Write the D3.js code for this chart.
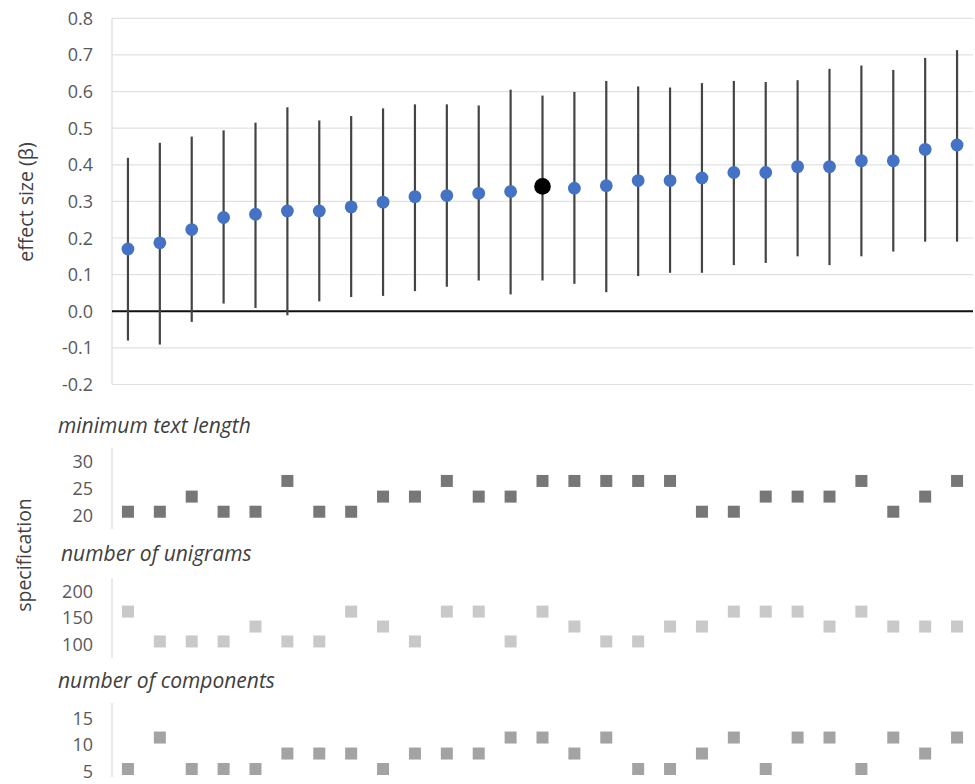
<!DOCTYPE html>
<meta charset="utf-8">
<style>
body { margin: 0; background: #fff; }
svg { display: block; font-family: "Open Sans", sans-serif; }
.tick-label { fill: #595959; font-size: 18px; }
.title { fill: #404040; font-size: 19.5px; }
.panel-title { fill: #404040; font-size: 21px; font-style: italic; }
</style>
<svg width="975" height="784"></svg>
<script src="https://cdn.jsdelivr.net/npm/d3@7"></script>
<script>

// effect size estimates with lower / upper bounds, one per specification
var beta  = [0.170, 0.187, 0.223, 0.256, 0.265, 0.274, 0.274, 0.285, 0.298, 0.313, 0.316, 0.322, 0.327, 0.341,
             0.336, 0.343, 0.357, 0.357, 0.364, 0.379, 0.379, 0.395, 0.395, 0.411, 0.411, 0.442, 0.454]
var upper = [0.419, 0.460, 0.477, 0.494, 0.515, 0.557, 0.521, 0.533, 0.554, 0.565, 0.565, 0.562, 0.605, 0.589,
             0.599, 0.629, 0.614, 0.611, 0.623, 0.629, 0.626, 0.631, 0.662, 0.671, 0.659, 0.692, 0.713]
var lower = [-0.080, -0.091, -0.029, 0.021, 0.009, -0.011, 0.027, 0.039, 0.042, 0.055, 0.067, 0.084, 0.046, 0.084,
             0.075, 0.052, 0.096, 0.105, 0.105, 0.126, 0.132, 0.150, 0.126, 0.150, 0.163, 0.190, 0.190]
var highlight = 13
var betaTicks = [-0.2, -0.1, 0.0, 0.1, 0.2, 0.3, 0.4, 0.5, 0.6, 0.7, 0.8]

// specification values
var textLength = [20.7, 20.7, 23.5, 20.7, 20.7, 26.4, 20.7, 20.7, 23.5, 23.5, 26.4, 23.5, 23.5, 26.4,
                  26.4, 26.4, 26.4, 26.4, 20.7, 20.7, 23.5, 23.5, 23.5, 26.4, 20.7, 23.5, 26.4]
var unigrams   = [162, 106, 106, 106, 134, 106, 106, 162, 134, 106, 162, 162, 106, 162,
                  134, 106, 106, 134, 134, 162, 162, 162, 134, 162, 134, 134, 134]
var components = [5.5, 11.4, 5.5, 5.5, 5.5, 8.4, 8.4, 8.4, 5.5, 8.4, 8.4, 8.4, 11.4, 11.4,
                  8.4, 11.4, 5.5, 5.5, 8.4, 11.4, 5.5, 11.4, 11.4, 5.5, 11.4, 8.4, 11.4]

var panels = [
  {title: "minimum text length", values: textLength, ticks: [20, 25, 30], domain: [17.5, 32.5], range: [529, 448], line: [448, 529], titleX: 58, titleY: 433, color: "#777777"},
  {title: "number of unigrams", values: unigrams, ticks: [100, 150, 200], domain: [75, 225], range: [658, 578], line: [578, 658], titleX: 61, titleY: 561, color: "#c9c9c9"},
  {title: "number of components", values: components, ticks: [5, 10, 15], domain: [2.5, 17.5], range: [785, 705], line: [703, 777], titleX: 58, titleY: 688, color: "#a3a3a3"}
]

var svg = d3.select("svg")
var left = 112, right = 973

var x = d3.scalePoint()
  .domain(d3.range(beta.length))
  .range([left, right])
  .padding(0.5)

var y = d3.scaleLinear()
  .domain([-0.2, 0.8])
  .range([384.5, 18.3])

// top panel: grid
svg.append("g")
  .selectAll("line")
  .data(betaTicks)
  .enter().append("line")
    .attr("x1", left)
    .attr("x2", right)
    .attr("y1", function(d) { return y(d) })
    .attr("y2", function(d) { return y(d) })
    .attr("stroke", "#e1e1e1")
    .attr("stroke-width", 1.2)

svg.append("line")
  .attr("x1", left).attr("x2", left)
  .attr("y1", y(0.8)).attr("y2", y(-0.2))
  .attr("stroke", "#dcdcdc")
  .attr("stroke-width", 1.2)

svg.append("g")
  .selectAll("text")
  .data(betaTicks)
  .enter().append("text")
    .attr("class", "tick-label")
    .attr("x", 93)
    .attr("y", function(d) { return y(d) })
    .attr("dy", "0.36em")
    .attr("text-anchor", "end")
    .text(function(d) { return d.toFixed(1) })

svg.append("line")
  .attr("x1", left).attr("x2", right)
  .attr("y1", y(0)).attr("y2", y(0))
  .attr("stroke", "#111")
  .attr("stroke-width", 2.2)

// error bars
svg.append("g")
  .selectAll("line")
  .data(beta)
  .enter().append("line")
    .attr("x1", function(d, i) { return x(i) })
    .attr("x2", function(d, i) { return x(i) })
    .attr("y1", function(d, i) { return y(upper[i]) })
    .attr("y2", function(d, i) { return y(lower[i]) })
    .attr("stroke", "#444")
    .attr("stroke-width", 2.2)

svg.append("g")
  .selectAll("circle")
  .data(beta)
  .enter().append("circle")
    .attr("cx", function(d, i) { return x(i) })
    .attr("cy", function(d) { return y(d) })
    .attr("r", function(d, i) { return i == highlight ? 8.3 : 6.4 })
    .attr("fill", function(d, i) { return i == highlight ? "#000" : "#4472c4" })

svg.append("text")
  .attr("class", "title")
  .attr("transform", "translate(33,202) rotate(-90)")
  .attr("text-anchor", "middle")
  .text("effect size (β)")

// specification panels
panels.forEach(function(p) {
  var sy = d3.scaleLinear().domain(p.domain).range(p.range)
  var g = svg.append("g")

  g.append("text")
    .attr("class", "panel-title")
    .attr("x", p.titleX)
    .attr("y", p.titleY)
    .text(p.title)

  g.append("line")
    .attr("x1", left).attr("x2", left)
    .attr("y1", p.line[0]).attr("y2", p.line[1])
    .attr("stroke", "#dcdcdc")
    .attr("stroke-width", 1.2)

  g.selectAll(".tick-label")
    .data(p.ticks)
    .enter().append("text")
      .attr("class", "tick-label")
      .attr("x", 93)
      .attr("y", function(d) { return sy(d) })
      .attr("dy", "0.36em")
      .attr("text-anchor", "end")
      .text(function(d) { return d })

  g.selectAll("rect")
    .data(p.values)
    .enter().append("rect")
      .attr("x", function(d, i) { return x(i) - 6 })
      .attr("y", function(d) { return sy(d) - 6 })
      .attr("width", 12)
      .attr("height", 12)
      .attr("fill", p.color)
})

svg.append("text")
  .attr("class", "title")
  .attr("transform", "translate(31,555) rotate(-90)")
  .attr("text-anchor", "middle")
  .text("specification")

</script>
